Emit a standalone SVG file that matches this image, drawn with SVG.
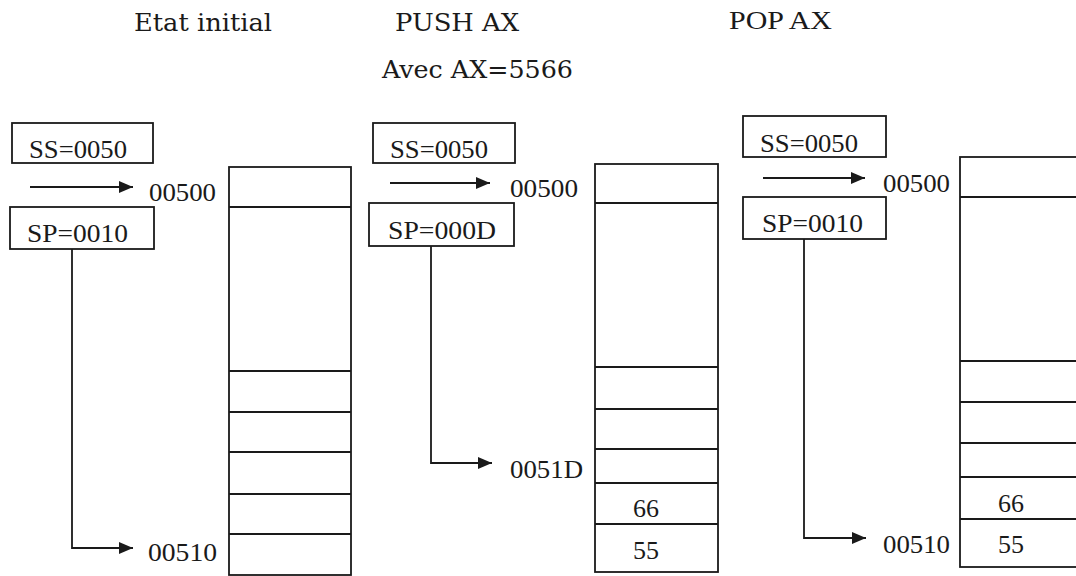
<svg xmlns="http://www.w3.org/2000/svg" width="1076" height="576" viewBox="0 0 1076 576">
<defs>
<style>
.box{fill:none;stroke:#1a1a1a;stroke-width:1.8}
.ln{fill:none;stroke:#1a1a1a;stroke-width:1.8}
.t{font-family:"Liberation Serif","Times New Roman",serif;font-size:26px;fill:#1a1a1a}
.h{font-family:"DejaVu Serif","Liberation Serif",serif;font-size:24px;fill:#1a1a1a}
.c{fill:none;stroke:#1a1a1a;stroke-width:1.8;marker-end:url(#ah)}
</style>
<marker id="ah" viewBox="0 0 14 12" refX="14" refY="6" markerWidth="14" markerHeight="12" markerUnits="userSpaceOnUse" orient="auto">
<path d="M0,0 L14,6 L0,12 Z" fill="#1a1a1a"/>
</marker>
</defs>
<rect width="1076" height="576" fill="#ffffff"/>

<g id="headings">
<text class="h" x="134" y="31" textLength="138" lengthAdjust="spacingAndGlyphs">Etat initial</text>
<text class="h" x="395" y="31" textLength="124" lengthAdjust="spacingAndGlyphs">PUSH AX</text>
<text class="h" x="382" y="78" font-size="27" textLength="191" lengthAdjust="spacingAndGlyphs">Avec AX=5566</text>
<text class="t" x="729" y="29" font-size="28" textLength="103" lengthAdjust="spacingAndGlyphs">POP AX</text>
</g>

<!-- Panel 1 -->
<g id="p1-ss">
<rect class="box" x="12" y="123" width="141" height="40"/>
<text class="t" x="29" y="158" textLength="98" lengthAdjust="spacingAndGlyphs">SS=0050</text>
</g>
<g id="p1-sp">
<rect class="box" x="10" y="207" width="144" height="42"/>
<text class="t" x="27" y="242" textLength="101" lengthAdjust="spacingAndGlyphs">SP=0010</text>
</g>
<g id="p1-stack">
<rect class="box" x="229" y="167" width="122" height="408"/>
<path class="ln" d="M229 207H351M229 371H351M229 412H351M229 452H351M229 494H351M229 534H351"/>
</g>
<g id="p1-labels">
<text class="t" x="149" y="201" textLength="67" lengthAdjust="spacingAndGlyphs">00500</text>
<text class="t" x="148" y="561" textLength="69" lengthAdjust="spacingAndGlyphs">00510</text>
</g>

<!-- Panel 2 -->
<g id="p2-ss">
<rect class="box" x="373" y="123" width="142" height="40"/>
<text class="t" x="390" y="158" textLength="98" lengthAdjust="spacingAndGlyphs">SS=0050</text>
</g>
<g id="p2-sp">
<rect class="box" x="369" y="203" width="145" height="43"/>
<text class="t" x="388" y="239" textLength="108" lengthAdjust="spacingAndGlyphs">SP=000D</text>
</g>
<g id="p2-stack">
<rect class="box" x="595" y="164" width="123" height="408"/>
<path class="ln" d="M595 203H718M595 367H718M595 409H718M595 449H718M595 483H718M595 524H718"/>
<text class="t" x="633" y="517">66</text>
<text class="t" x="633" y="559">55</text>
</g>
<g id="p2-labels">
<text class="t" x="510" y="197" textLength="68" lengthAdjust="spacingAndGlyphs">00500</text>
<text class="t" x="510" y="478" textLength="73" lengthAdjust="spacingAndGlyphs">0051D</text>
</g>

<!-- Panel 3 -->
<g id="p3-ss">
<rect class="box" x="743" y="116" width="143" height="41"/>
<text class="t" x="760" y="152" textLength="98" lengthAdjust="spacingAndGlyphs">SS=0050</text>
</g>
<g id="p3-sp">
<rect class="box" x="743" y="197" width="143" height="42"/>
<text class="t" x="762" y="232" textLength="101" lengthAdjust="spacingAndGlyphs">SP=0010</text>
</g>
<g id="p3-stack">
<rect class="box" x="960" y="157" width="130" height="410"/>
<path class="ln" d="M960 197H1090M960 361H1090M960 402H1090M960 443H1090M960 477H1090M960 519H1090"/>
<text class="t" x="998" y="512">66</text>
<text class="t" x="998" y="553">55</text>
</g>
<g id="p3-labels">
<text class="t" x="883" y="192" textLength="67" lengthAdjust="spacingAndGlyphs">00500</text>
<text class="t" x="883" y="553" textLength="67" lengthAdjust="spacingAndGlyphs">00510</text>
</g>

<g id="connectors">
<path class="c" d="M30 187H133"/>
<path class="c" d="M72 249V548H133"/>
<path class="c" d="M390 183H490"/>
<path class="c" d="M431 246V463H492"/>
<path class="c" d="M763 178H865"/>
<path class="c" d="M804 239V538H866"/>
</g>
</svg>
